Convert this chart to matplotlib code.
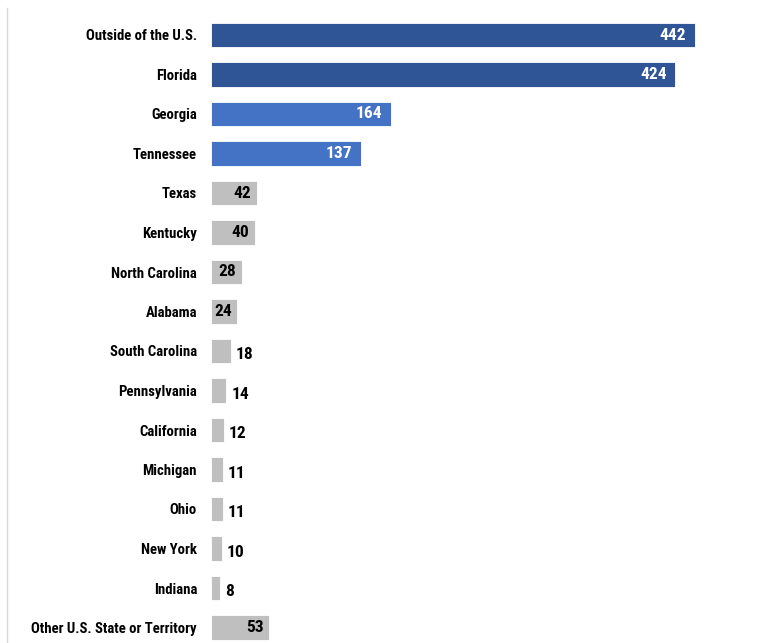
import matplotlib.pyplot as plt
from matplotlib import font_manager

places = ['Outside of the U.S.', 'Florida', 'Georgia', 'Tennessee', 'Texas',
          'Kentucky', 'North Carolina', 'Alabama', 'South Carolina',
          'Pennsylvania', 'California', 'Michigan', 'Ohio', 'New York',
          'Indiana', 'Other U.S. State or Territory']
counts = [442, 424, 164, 137, 42, 40, 28, 24, 18, 14, 12, 11, 11, 10, 8, 53]

navy = '#2F5597'
blue = '#4472C4'
grey = '#BFBFBF'
colors = [navy, navy, blue, blue] + [grey] * 12

# pick a narrow bold face if there is one
fonts = font_manager.fontManager.ttflist
names = {f.name for f in fonts}
fam, stretch = 'Roboto', 'normal'
for cand in ['Liberation Sans Narrow', 'Roboto Condensed', 'Open Sans Condensed']:
    if cand in names:
        fam = cand
        break
else:
    if any(f.name == 'DejaVu Sans' and f.stretch == 'condensed' for f in fonts):
        fam, stretch = 'DejaVu Sans', 'condensed'
plt.rcParams['font.family'] = fam
plt.rcParams['font.stretch'] = stretch
plt.rcParams['font.weight'] = 'bold'

fig = plt.figure(figsize=(7.72, 6.43), dpi=100)
ax = fig.add_axes([211 / 772, -4.25 / 643, 547.5 / 772, 632 / 643])

y = list(range(len(places)))
ax.barh(y, counts, height=0.61, color=colors, edgecolor='white', linewidth=0.6)
ax.set_xlim(0, 500)
ax.set_ylim(len(places) - 0.5, -0.5)

ax.set_yticks(y)
ax.set_yticklabels(places, fontsize=10.6, fontweight='bold', fontstretch=stretch)
ax.tick_params(axis='y', length=0, pad=10)
ax.set_xticks([])
for s in ax.spines.values():
    s.set_visible(False)

for i, (v, c) in enumerate(zip(counts, colors)):
    if c != grey:
        ax.text(v - 8, i, str(v), ha='right', va='center', color='white',
                fontsize=12.5, fontweight='bold', fontstretch=stretch)
    elif v >= 20:
        ax.text(v - 5, i, str(v), ha='right', va='center', color='black',
                fontsize=12.5, fontweight='bold', fontstretch=stretch)
    else:
        ax.text(v + 4.5, i + 0.1, str(v), ha='left', va='center', color='black',
                fontsize=12.5, fontweight='bold', fontstretch=stretch)

# thin frame line down the left side
fig.add_artist(plt.Line2D([6.5 / 772, 6.5 / 772], [0, 1 - 8 / 643],
                          color='#D9D9D9', linewidth=1))

fig.savefig('out.png', dpi=100)
